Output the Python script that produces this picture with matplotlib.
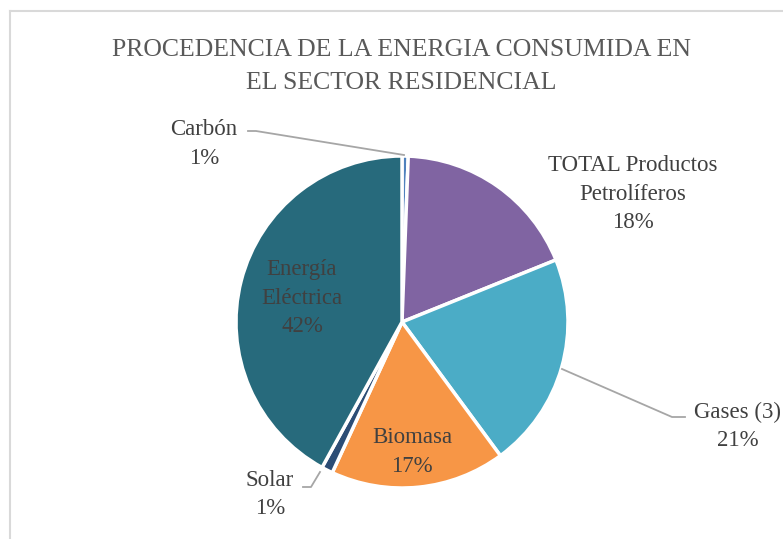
import matplotlib
matplotlib.use('Agg')
import matplotlib.pyplot as plt

### Data
labels = ['Carbón', 'TOTAL Productos\nPetrolíferos', 'Gases (3)', 'Biomasa', 'Solar', 'Energía\nEléctrica']
values = [0.6, 18.3, 21.0, 17.0, 1.1, 42.0]
pct_labels = ['1%', '18%', '21%', '17%', '1%', '42%']
colors = ['#4F81BD', '#8064A2', '#4BACC6', '#F79646', '#2C4D75', '#276A7C']

W, H = 783, 539
plt.rcParams['font.family'] = ['Liberation Serif', 'DejaVu Serif']

fig = plt.figure(figsize=(W / 100, H / 100), dpi=100)
ax = fig.add_axes([0, 0, 1, 1])

def py(y):
    # pixel row -> data y
    return H - y

cx, cy, r = 402, 322, 166
ax.pie(values, colors=colors, startangle=90, counterclock=False,
       center=(cx, py(cy)), radius=r,
       wedgeprops=dict(edgecolor='white', linewidth=2.5))
ax.set_xlim(0, W)
ax.set_ylim(0, H)
ax.set_aspect('equal')
ax.axis('off')

# chart frame
ax.plot([9.5, 9.5], [0, py(10.5)], color='#D9D9D9', lw=1.5, clip_on=False)
ax.plot([9.5, W + 5], [py(10.5), py(10.5)], color='#D9D9D9', lw=1.5, clip_on=False)

### Title
ax.text(401, py(66.5), 'PROCEDENCIA DE LA ENERGIA CONSUMIDA EN\nEL SECTOR RESIDENCIAL',
        ha='center', va='center', fontsize=18.5, color='#595959', linespacing=1.6)

### Labels
txt = '#404040'
fs = 16.5
pos = [(204, 144), (633, 194), (738, 426.5), (412, 452), (270, 494.5), (302, 298)]
for lab, pct, (x, y) in zip(labels, pct_labels, pos):
    ax.text(x, py(y), lab + '\n' + pct, ha='center', va='center',
            fontsize=fs, color=txt, linespacing=1.45)

# leader lines
lc = '#A6A6A6'
ax.plot([248, 256, 404], [py(131), py(131), py(155)], color=lc, lw=1.3)
ax.plot([562, 672, 685], [py(369), py(417), py(417)], color=lc, lw=1.3)
ax.plot([303, 311, 320], [py(487), py(487), py(472)], color=lc, lw=1.3)

fig.savefig('out.png', dpi=100)
